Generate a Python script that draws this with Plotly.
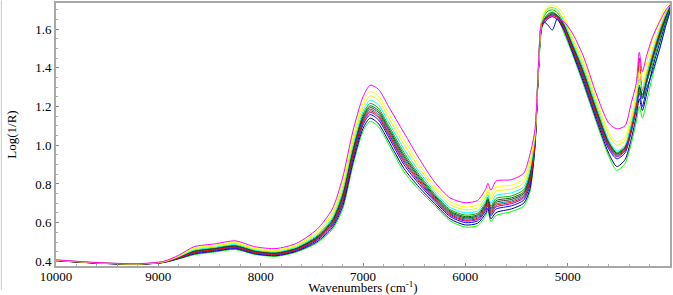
import plotly.graph_objects as go

wavenumbers = [10000, 9600, 9200, 8950, 8800, 8650, 8450, 8250, 8050, 7850, 7650, 7450, 7300, 7200,
               7100, 7000, 6930, 6850, 6750, 6600, 6450, 6300, 6150, 6000, 5880, 5800, 5780, 5750,
               5700, 5550, 5430, 5370, 5320, 5285, 5250, 5200, 5150, 5100, 5040, 4960, 4850, 4720,
               4600, 4520, 4440, 4380, 4330, 4300, 4270, 4230, 4170, 4100, 4040, 4000]

magenta = [0.408, 0.394, 0.388, 0.400, 0.432, 0.476, 0.490, 0.506, 0.475, 0.466, 0.493, 0.565, 0.670, 0.830,
           1.070, 1.250, 1.310, 1.290, 1.200, 1.065, 0.930, 0.810, 0.728, 0.703, 0.715, 0.775, 0.803, 0.768,
           0.815, 0.822, 0.855, 0.950, 1.080, 1.420, 1.635, 1.655, 1.665, 1.655, 1.640, 1.585, 1.465, 1.265,
           1.115, 1.085, 1.100, 1.215, 1.320, 1.480, 1.380, 1.460, 1.560, 1.640, 1.700, 1.725]
yellow = [0.407, 0.393, 0.387, 0.399, 0.429, 0.469, 0.483, 0.498, 0.468, 0.459, 0.485, 0.553, 0.652, 0.802,
          1.039, 1.219, 1.278, 1.256, 1.166, 1.030, 0.902, 0.789, 0.708, 0.681, 0.693, 0.751, 0.779, 0.740,
          0.784, 0.793, 0.826, 0.916, 1.063, 1.414, 1.660, 1.715, 1.722, 1.715, 1.675, 1.567, 1.440, 1.240,
          1.070, 1.018, 1.040, 1.150, 1.270, 1.380, 1.330, 1.420, 1.550, 1.650, 1.720, 1.735]
yellow2 = [0.406, 0.393, 0.387, 0.398, 0.426, 0.464, 0.478, 0.493, 0.463, 0.454, 0.480, 0.544, 0.639, 0.782,
           1.017, 1.197, 1.255, 1.232, 1.142, 1.005, 0.882, 0.774, 0.693, 0.666, 0.677, 0.734, 0.761, 0.720,
           0.762, 0.773, 0.805, 0.892, 1.051, 1.410, 1.650, 1.700, 1.705, 1.695, 1.655, 1.554, 1.422, 1.222,
           1.055, 1.000, 1.025, 1.130, 1.255, 1.330, 1.300, 1.380, 1.500, 1.610, 1.690, 1.730]
cyan = [0.406, 0.393, 0.387, 0.397, 0.424, 0.459, 0.473, 0.487, 0.458, 0.449, 0.474, 0.536, 0.626, 0.763,
        0.996, 1.176, 1.233, 1.210, 1.120, 0.981, 0.863, 0.760, 0.679, 0.651, 0.661, 0.718, 0.745, 0.701,
        0.741, 0.754, 0.785, 0.870, 1.040, 1.407, 1.645, 1.705, 1.712, 1.700, 1.645, 1.541, 1.405, 1.205,
        1.030, 0.970, 1.000, 1.105, 1.230, 1.340, 1.280, 1.360, 1.480, 1.600, 1.680, 1.725]
green = [0.405, 0.392, 0.386, 0.397, 0.422, 0.455, 0.469, 0.483, 0.455, 0.446, 0.470, 0.530, 0.617, 0.748,
         0.980, 1.160, 1.216, 1.192, 1.102, 0.963, 0.848, 0.749, 0.668, 0.639, 0.649, 0.705, 0.732, 0.686,
         0.725, 0.738, 0.769, 0.852, 1.031, 1.404, 1.640, 1.690, 1.700, 1.685, 1.630, 1.532, 1.391, 1.191,
         1.020, 0.963, 0.993, 1.098, 1.220, 1.300, 1.240, 1.320, 1.420, 1.550, 1.650, 1.710]
darkgreen = [0.405, 0.392, 0.386, 0.396, 0.421, 0.452, 0.466, 0.480, 0.452, 0.443, 0.467, 0.525, 0.610, 0.738,
             0.969, 1.149, 1.204, 1.180, 1.090, 0.950, 0.838, 0.741, 0.661, 0.631, 0.641, 0.697, 0.723, 0.676,
             0.714, 0.728, 0.758, 0.840, 1.025, 1.402, 1.630, 1.672, 1.685, 1.672, 1.625, 1.525, 1.382, 1.182,
             1.015, 0.958, 0.988, 1.093, 1.215, 1.310, 1.260, 1.340, 1.460, 1.580, 1.670, 1.720]
black = [0.405, 0.392, 0.386, 0.396, 0.420, 0.450, 0.464, 0.478, 0.450, 0.441, 0.465, 0.522, 0.605, 0.730,
         0.960, 1.140, 1.195, 1.170, 1.080, 0.940, 0.830, 0.735, 0.655, 0.625, 0.635, 0.690, 0.716, 0.668,
         0.705, 0.720, 0.750, 0.830, 1.020, 1.400, 1.630, 1.665, 1.680, 1.668, 1.620, 1.520, 1.375, 1.175,
         1.010, 0.955, 0.985, 1.090, 1.210, 1.300, 1.250, 1.330, 1.450, 1.570, 1.660, 1.715]
teal = [0.405, 0.392, 0.386, 0.396, 0.419, 0.448, 0.462, 0.476, 0.448, 0.439, 0.463, 0.519, 0.600, 0.722,
        0.951, 1.131, 1.186, 1.160, 1.070, 0.930, 0.822, 0.729, 0.649, 0.619, 0.629, 0.683, 0.709, 0.660,
        0.696, 0.712, 0.742, 0.820, 1.015, 1.398, 1.625, 1.660, 1.675, 1.662, 1.615, 1.515, 1.368, 1.168,
        1.003, 0.950, 0.980, 1.085, 1.205, 1.290, 1.240, 1.320, 1.440, 1.560, 1.655, 1.710]
red = [0.404, 0.392, 0.386, 0.395, 0.418, 0.446, 0.460, 0.474, 0.446, 0.437, 0.461, 0.516, 0.595, 0.715,
       0.944, 1.124, 1.178, 1.152, 1.062, 0.921, 0.815, 0.724, 0.644, 0.613, 0.623, 0.677, 0.703, 0.653,
       0.689, 0.705, 0.734, 0.812, 1.011, 1.397, 1.620, 1.658, 1.670, 1.660, 1.612, 1.510, 1.362, 1.162,
       0.998, 0.945, 0.975, 1.080, 1.200, 1.450, 1.280, 1.360, 1.470, 1.590, 1.680, 1.720]
purple = [0.404, 0.391, 0.385, 0.395, 0.417, 0.444, 0.458, 0.472, 0.444, 0.435, 0.459, 0.513, 0.591, 0.708,
          0.936, 1.116, 1.170, 1.144, 1.054, 0.913, 0.808, 0.719, 0.639, 0.608, 0.617, 0.671, 0.697, 0.646,
          0.681, 0.698, 0.727, 0.804, 1.007, 1.396, 1.630, 1.662, 1.675, 1.662, 1.610, 1.506, 1.355, 1.155,
          0.992, 0.940, 0.970, 1.075, 1.195, 1.280, 1.240, 1.320, 1.450, 1.570, 1.665, 1.715]
blue = [0.404, 0.391, 0.385, 0.395, 0.416, 0.442, 0.456, 0.469, 0.442, 0.433, 0.456, 0.508, 0.584, 0.698,
        0.925, 1.105, 1.158, 1.132, 1.042, 0.900, 0.798, 0.711, 0.632, 0.600, 0.609, 0.663, 0.688, 0.636,
        0.670, 0.687, 0.716, 0.792, 1.001, 1.394, 1.640, 1.625, 1.595, 1.655, 1.605, 1.499, 1.346, 1.146,
        0.982, 0.930, 0.960, 1.065, 1.185, 1.270, 1.200, 1.290, 1.380, 1.500, 1.620, 1.690]
navy = [0.403, 0.391, 0.385, 0.394, 0.414, 0.438, 0.452, 0.465, 0.438, 0.429, 0.452, 0.501, 0.574, 0.682,
        0.907, 1.087, 1.140, 1.112, 1.022, 0.880, 0.782, 0.699, 0.620, 0.588, 0.597, 0.649, 0.674, 0.620,
        0.652, 0.671, 0.700, 0.772, 0.991, 1.390, 1.615, 1.650, 1.665, 1.650, 1.598, 1.489, 1.332, 1.132,
        0.960, 0.890, 0.925, 1.030, 1.150, 1.240, 1.180, 1.260, 1.400, 1.530, 1.640, 1.700]
lime = [0.403, 0.391, 0.385, 0.394, 0.413, 0.434, 0.448, 0.461, 0.435, 0.426, 0.448, 0.495, 0.565, 0.668,
        0.892, 1.072, 1.124, 1.096, 1.006, 0.863, 0.768, 0.689, 0.610, 0.577, 0.585, 0.637, 0.662, 0.606,
        0.637, 0.657, 0.685, 0.756, 0.983, 1.388, 1.610, 1.675, 1.690, 1.665, 1.585, 1.480, 1.319, 1.119,
        0.945, 0.870, 0.905, 1.005, 1.120, 1.200, 1.140, 1.220, 1.360, 1.500, 1.620, 1.690]

series = [
    ("lime", lime, "#00ff00"),
    ("navy", navy, "#000080"),
    ("blue", blue, "#0000ff"),
    ("purple", purple, "#9900cc"),
    ("teal", teal, "#008080"),
    ("green", green, "#00b000"),
    ("darkgreen", darkgreen, "#006400"),
    ("black", black, "#303030"),
    ("red", red, "#ff0000"),
    ("cyan", cyan, "#00ffff"),
    ("yellow2", yellow2, "#f0f000"),
    ("yellow", yellow, "#ffff00"),
    ("magenta", magenta, "#ff00ff"),
]

x_ticks = [10000, 9000, 8000, 7000, 6000, 5000]
y_ticks = [0.4, 0.6, 0.8, 1.0, 1.2, 1.4, 1.6]

fig = go.Figure()
for name, vals, col in series:
    fig.add_trace(go.Scatter(x=wavenumbers, y=vals, mode="lines", name=name,
                             line=dict(color=col, width=1, shape="spline", smoothing=0.7),
                             showlegend=False, hoverinfo="skip"))

font = dict(family="Liberation Serif", size=13, color="black")
common = dict(showgrid=False, zeroline=False, showline=True, linecolor="#a8a8a8", linewidth=2,
              mirror=True, ticks="inside", ticklen=3, tickcolor="#888888", tickfont=font,
              automargin=False)

fig.update_layout(
    width=673, height=295,
    margin=dict(l=56, r=3, t=3, b=29, autoexpand=False),
    paper_bgcolor="white", plot_bgcolor="white",
    font=font,
    xaxis=dict(range=[10000, 4000], tickvals=x_ticks, ticktext=[str(v) for v in x_ticks],
               ticklabelstandoff=-3,
               title=dict(text="Wavenumbers (cm<sup>-1</sup>)", font=font, standoff=4),
               minor=dict(ticks="inside", ticklen=2, tickcolor="#aaaaaa", dtick=200),
               **common),
    yaxis=dict(range=[0.376, 1.735], tickvals=y_ticks, ticktext=[f"{v:.1f}" for v in y_ticks],
               title=dict(text="Log(1/R)", font=font, standoff=16),
               minor=dict(ticks="inside", ticklen=2, tickcolor="#aaaaaa", dtick=0.05),
               **common),
    shapes=[dict(type="line", xref="paper", yref="paper", x0=-0.089, x1=-0.089, y0=-0.09, y1=1.01,
                 line=dict(color="#c8c8c8", width=1))],
)

fig.write_html("out.html", config={"displayModeBar": False},
               post_script="document.body.style.margin='0';document.body.style.padding='0';")
